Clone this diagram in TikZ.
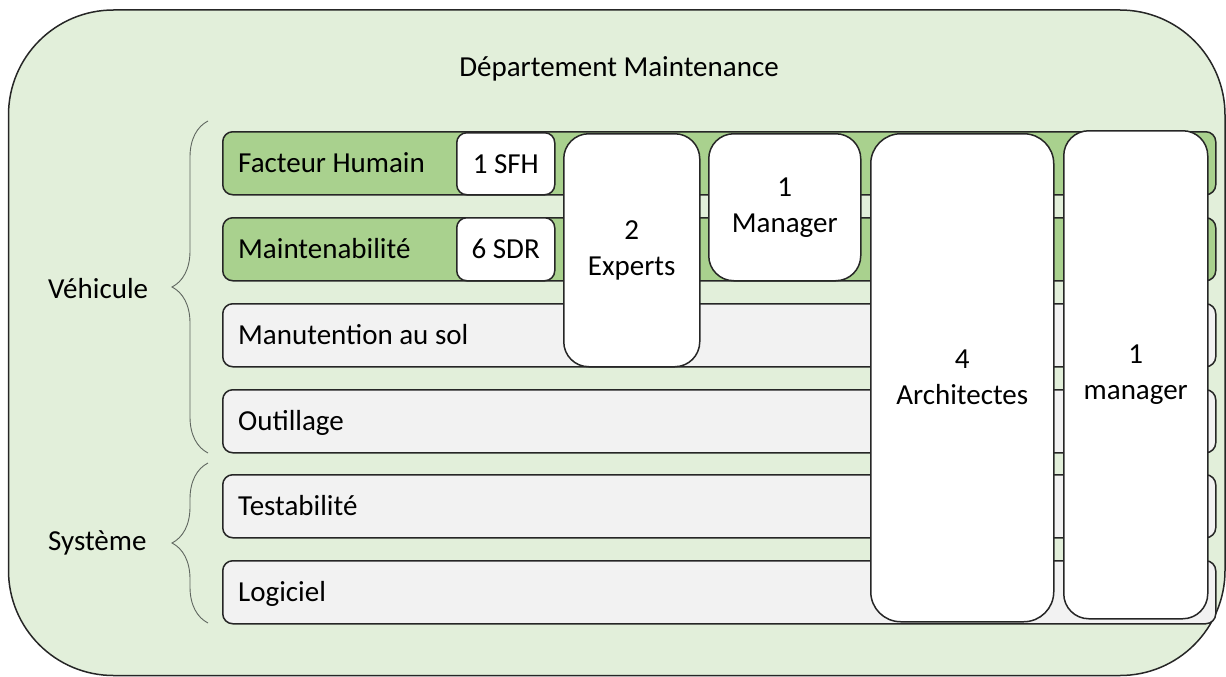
\documentclass[tikz,border=0pt]{standalone}
\usepackage{fontspec}
\setmainfont{Carlito}
\usetikzlibrary{decorations.pathreplacing}
\definecolor{deptfill}{HTML}{E2EFDA}
\definecolor{rowgreen}{HTML}{A9D18E}
\definecolor{rowgray}{HTML}{F2F2F2}
\definecolor{edgegray}{HTML}{262626}
\definecolor{bracegray}{HTML}{5F665F}
\begin{document}
\begin{tikzpicture}[x=1pt, y=-1pt,
        every node/.style={font=\fontsize{29}{36}\selectfont, inner sep=0pt},
        rowbox/.style={rectangle, draw=edgegray, line width=1.5pt, rounded corners=10pt, anchor=north west, minimum width=993pt, minimum height=63pt},
        greenrow/.style={rowbox, fill=rowgreen},
        grayrow/.style={rowbox, fill=rowgray},
        rowtext/.style={anchor=west, xshift=16pt, text height=21pt, text depth=3pt},
        staffbox/.style={rectangle, draw=edgegray, line width=1.5pt, fill=white, anchor=north west, align=center, rounded corners=#1},
        staffbox/.default=25pt,
        groupbrace/.style={draw=bracegray, line width=0.9pt, decorate, decoration={brace, amplitude=36pt}}]
        \useasboundingbox (0,0) rectangle (1226,677);
        \draw[draw=edgegray, fill=deptfill, line width=1.5pt, rounded corners=105pt] (8.5,10) rectangle (1225,675.5);

        \node (dept) at (619,69) {Département Maintenance};
        \node[greenrow] (facteur) at (222,131) {};
        \node[greenrow] (maint) at (222,217) {};
        \node[grayrow] (manut) at (222,303) {};
        \node[grayrow] (outil) at (222,389) {};
        \node[grayrow] (test) at (222,474) {};
        \node[grayrow] (logiciel) at (222,560) {};
        \node[rowtext] (facteurtxt) at (facteur.west) {Facteur Humain};
        \node[rowtext] (mainttxt) at (maint.west) {Maintenabilité};
        \node[rowtext] (manuttxt) at (manut.west) {Manutention au sol};
        \node[rowtext] (outiltxt) at (outil.west) {Outillage};
        \node[rowtext] (testtxt) at (test.west) {Testabilité};
        \node[rowtext] (logicieltxt) at (logiciel.west) {Logiciel};

        \node[staffbox=10pt, minimum width=98pt, minimum height=62pt] (sfh) at (456,132) {1 SFH};
        \node[staffbox=10pt, minimum width=98pt, minimum height=63pt] (sdr) at (456,217) {6 SDR};
        \node[staffbox, minimum width=136pt, minimum height=233pt] (experts) at (563,133) {2\\Experts};
        \node[staffbox, minimum width=152pt, minimum height=147pt] (manager) at (708,133) {1\\Manager};
        \node[staffbox=30pt, minimum width=183pt, minimum height=488pt] (archi) at (870,133) {4\\Architectes};
        \node[staffbox, minimum width=144pt, minimum height=488pt] (chef) at (1063,130) {1\\manager};

        \node[anchor=west] (vehicule) at (48,289) {Véhicule};
        \node[anchor=west] (systeme) at (48,543) {Système};
        \coordinate (vtop) at (208,121);
        \coordinate (vbot) at (208,453);
        \coordinate (stop) at (208,463);
        \coordinate (sbot) at (208,623);
        \draw[groupbrace] (vbot) -- (vtop);
        \draw[groupbrace] (sbot) -- (stop);

    \end{tikzpicture}
\end{document}
